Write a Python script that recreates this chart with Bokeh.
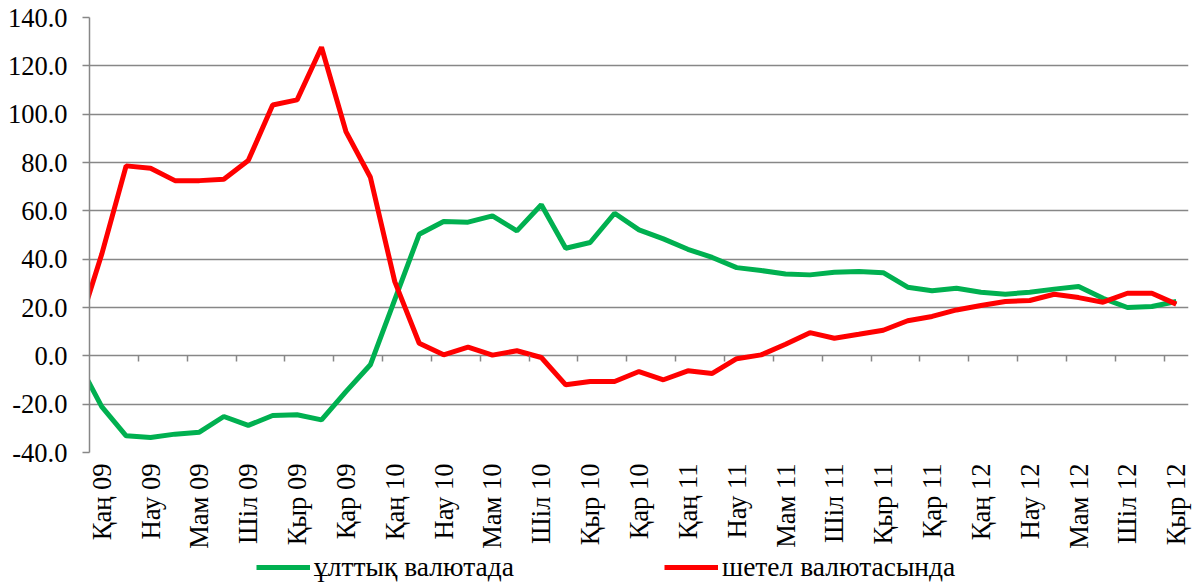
import math
from bokeh.plotting import figure
from bokeh.layouts import column
from bokeh.models import (LinearAxis, Legend, LegendItem, FixedTicker, PrintfTickFormatter,
                          Range1d, ColumnDataSource)
from bokeh.embed import file_html
from bokeh.resources import INLINE

# Month labels (Kazakh), Jan 2009 .. Sep 2012
month_names = ["Қаң", "Ақп", "Нау", "Сәу", "Мам", "Мау", "Шіл", "Там", "Қыр", "Қаз", "Қар", "Жел"]
years = ["09", "10", "11", "12"]
categories = [f"{m} {y}" for y in years for m in month_names][:45]

# Value preceding the first month (Dec 08), partly visible at the left edge
prev_national = -2.0
prev_foreign = 10.0

national = [-21.0, -33.1, -33.8, -32.4, -31.6, -25.1, -28.8, -24.7, -24.4, -26.5, -14.8, -3.7,
            23.3, 50.3, 55.6, 55.3, 57.9, 51.7, 62.5, 44.5, 46.9, 59.0, 52.1, 48.4,
            44.1, 40.7, 36.5, 35.3, 33.9, 33.5, 34.6, 34.9, 34.4, 28.4, 26.9, 28.0,
            26.3, 25.5, 26.3, 27.6, 28.7, 23.8, 20.0, 20.4, 22.5]
foreign = [42.0, 78.6, 77.6, 72.5, 72.5, 73.1, 80.8, 103.8, 105.9, 127.7, 92.8, 73.9,
           30.7, 5.2, 0.4, 3.6, 0.3, 2.1, -0.7, -12.0, -10.6, -10.6, -6.5, -9.9,
           -6.2, -7.3, -1.2, 0.4, 4.8, 9.6, 7.3, 8.9, 10.6, 14.5, 16.3, 19.0,
           20.8, 22.5, 22.9, 25.5, 24.1, 22.2, 25.9, 25.9, 21.4]

series_names = ["ұлттық валютада", "шетел валютасында"]
series_colors = ["#00B050", "#FF0000"]
y_ticks = [-40, -20, 0, 20, 40, 60, 80, 100, 120, 140]

n = len(categories)
xs = list(range(-1, n))
src = ColumnDataSource(dict(x=xs, nat=[prev_national] + national, fgn=[prev_foreign] + foreign))

FONT = "Liberation Serif"
FS = "26.5px"
GRID = "#878787"
LEG_H = 32

p = figure(frame_width=1099, frame_height=435,
           output_backend="svg", toolbar_location=None,
           x_range=Range1d(-0.5, n - 0.5), y_range=Range1d(y_ticks[0], y_ticks[-1]),
           x_axis_location=None, y_axis_location=None,
           min_border_left=89, min_border_top=17, min_border_right=5, min_border_bottom=0)
p.outline_line_color = None
p.background_fill_color = "white"
p.border_fill_color = "white"

# y axis
yax = LinearAxis(ticker=FixedTicker(ticks=y_ticks), formatter=PrintfTickFormatter(format="%.1f"))
yax.axis_line_color = GRID
yax.axis_line_width = 1.5
yax.major_tick_line_color = GRID
yax.major_tick_line_width = 1.5
yax.major_tick_out = 7
yax.major_tick_in = 0
yax.minor_tick_line_color = None
yax.major_label_text_font = FONT
yax.major_label_text_font_size = FS
yax.major_label_text_color = "black"
yax.major_label_standoff = 15
p.add_layout(yax, "left")

# x axis (labels at bottom)
label_ticks = list(range(0, n, 2))
xax = LinearAxis(ticker=FixedTicker(ticks=label_ticks),
                 major_label_overrides={i: categories[i] for i in label_ticks})
xax.axis_line_color = None
xax.major_tick_line_color = None
xax.major_tick_out = 0
xax.major_tick_in = 0
xax.minor_tick_line_color = None
xax.major_label_orientation = math.pi / 2
xax.major_label_text_font = FONT
xax.major_label_text_font_size = FS
xax.major_label_text_color = "black"
xax.major_label_standoff = 11
p.add_layout(xax, "below")

# x axis tick marks at y = 0 (between category pairs), hanging below the zero line
tick_pos = [i + 1.5 for i in range(0, n - 2, 2)]
zax = LinearAxis(ticker=FixedTicker(ticks=tick_pos), fixed_location=0)
zax.axis_line_color = None
zax.major_tick_line_color = GRID
zax.major_tick_line_width = 1.5
zax.major_tick_out = 0
zax.major_tick_in = 6
zax.major_label_standoff = 0
zax.minor_tick_line_color = None
zax.major_label_text_font_size = "0px"
zax.major_label_text_alpha = 0
p.add_layout(zax, "above")

p.xgrid.visible = False
p.ygrid.ticker = FixedTicker(ticks=y_ticks)
p.ygrid.grid_line_color = GRID
p.ygrid.grid_line_width = 1.5

p.line("x", "nat", source=src, line_color=series_colors[0], line_width=5)
p.line("x", "fgn", source=src, line_color=series_colors[1], line_width=5)

# Legend strip below the chart (its frame is aligned with the chart's frame)
lp = figure(frame_width=1099, height=LEG_H, output_backend="svg", toolbar_location=None,
            x_range=Range1d(-0.5, n - 0.5), y_range=Range1d(1000, 1001),
            x_axis_location=None, y_axis_location=None,
            min_border_left=89, min_border_right=5, min_border_top=0, min_border_bottom=0)
lp.outline_line_color = None
lp.grid.visible = False
lp.background_fill_color = "white"
lp.border_fill_color = "white"
lr1 = lp.line("x", "nat", source=src, line_color=series_colors[0], line_width=5)
lr2 = lp.line("x", "fgn", source=src, line_color=series_colors[1], line_width=5)

legend = Legend(items=[LegendItem(label=series_names[0], renderers=[lr1]),
                       LegendItem(label=series_names[1], renderers=[lr2])],
                orientation="horizontal", location=(167, 0))
legend.label_text_font = FONT
legend.label_text_font_size = "27.5px"
legend.label_text_color = "black"
legend.label_height = 20
legend.glyph_width = 54
legend.glyph_height = 20
legend.label_standoff = 4
legend.spacing = 150
legend.padding = 0
legend.margin = 0
legend.border_line_color = None
legend.background_fill_alpha = 0
lp.add_layout(legend, "center")

open("out.html", "w").write(file_html(column(p, lp, spacing=0), INLINE))
